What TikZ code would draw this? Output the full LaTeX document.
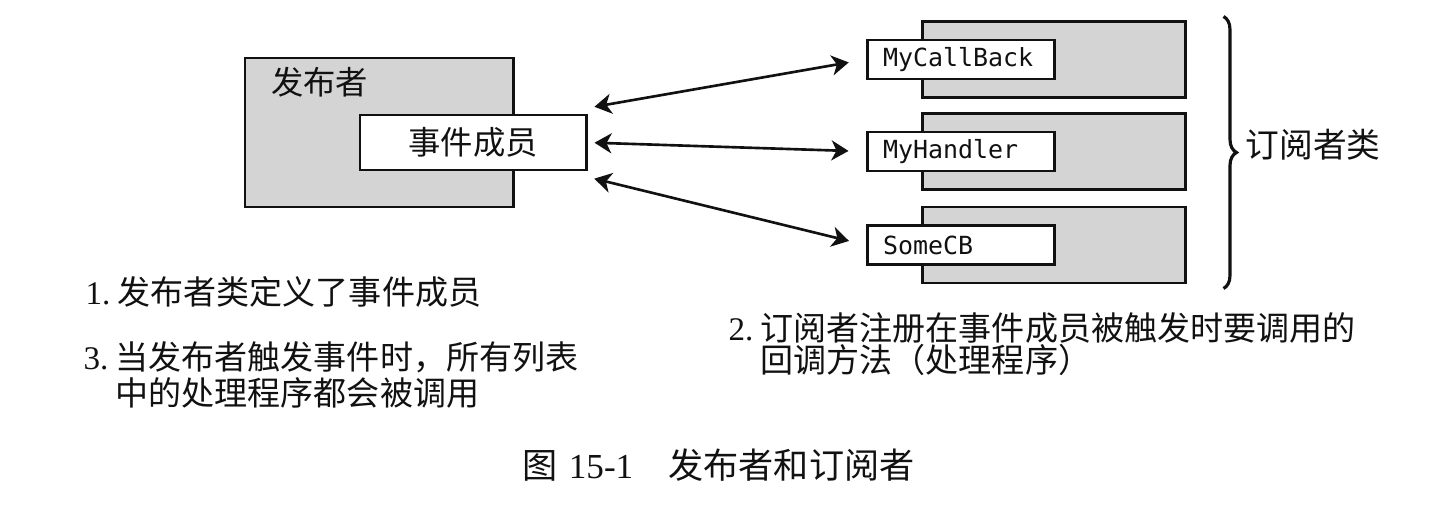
\documentclass[tikz,border=0pt]{standalone}
\usepackage{fontspec}
\setmainfont{Liberation Serif}
\newfontfamily\cjkfont{Noto Sans CJK SC}
\newfontfamily\codefont{DejaVu Sans Mono}
\usetikzlibrary{arrows.meta,positioning,calc,decorations.pathreplacing}
\definecolor{ink}{HTML}{111111}
\definecolor{speck}{HTML}{D4D4D4}
\tikzset{
  shell/.style={draw=ink, line width=0.85pt, fill=speck, inner sep=0pt},
  memb/.style={
    draw=ink, line width=0.85pt, fill=white, inner sep=0pt,
    minimum width=22.6mm, minimum height=5.5mm,
    font=\cjkfont\fontsize{9.2}{11}\selectfont, text=ink},
  cb/.style={
    draw=ink, line width=0.85pt, fill=white, inner xsep=1.6mm, inner ysep=0pt,
    text width=15.5mm, minimum height=3.9mm, align=left,
    font=\codefont\fontsize{7.1}{8}\selectfont, text=ink},
  bi/.style={{Stealth[length=1.7mm,width=2mm,inset=0.5mm]}-{Stealth[length=1.7mm,width=2mm,inset=0.5mm]},
             draw=ink, line width=0.75pt},
  brc/.style={decorate, decoration={brace, amplitude=1.3mm}, draw=ink, line width=0.9pt},
  note/.style={anchor=west, inner sep=0pt, align=left, text=ink,
               font=\cjkfont\fontsize{9.4}{10.2}\selectfont},
}
\newcommand{\numlbl}[1]{\makebox[3.2mm][l]{\rmfamily #1}}

\begin{document}
\begin{tikzpicture}[x=1mm, y=1mm]
\useasboundingbox (0,0) rectangle (144.4,51.4);

% publisher
\node[shell, minimum width=26.8mm, minimum height=14.9mm] (pub) at (37.9,38.15) {};
\node[note, font=\cjkfont\fontsize{9.2}{11}\selectfont] (pubname)
  at ($(pub.north west)+(2.7mm,-2.6mm)$) {发布者};
\node[memb] (evt) at (47.3,37.15) {事件成员};

% subscribers
\foreach \i/\y/\t in {1/45.45/MyCallBack, 2/36.25/MyHandler, 3/26.9/SomeCB} {
  \node[shell, minimum width=26.3mm, minimum height=7.6mm] (sub\i) at (105.35,\y) {};
  \node[cb, anchor=west] (cb\i) at ($(sub\i.west)+(-5.5mm,0)$) {\t};
}

\foreach \s/\i in {3.45/1, 0/2, -3.45/3}
  \draw[bi, shorten <=0.7mm, shorten >=1.7mm] ([yshift=\s mm]evt.east) -- (cb\i.west);

% brace round the subscriber classes
\coordinate (btop) at ($(sub1.north east)+(3.7mm,0.35mm)$);
\coordinate (bbot) at ($(sub3.south east)+(3.7mm,-0.4mm)$);
\draw[brc] (btop) -- (bbot);
\node[note, font=\cjkfont\fontsize{9.6}{11}\selectfont] (subcls) at (124.5,36.9) {订阅者类};

% steps
\node[note] (n1) at (8.5,22.2) {\numlbl{1.}发布者类定义了事件成员};
\node[note] (n3) at (8.3,13.9)
  {\numlbl{3.}当发布者触发事件时，所有列表\\\numlbl{}中的处理程序都会被调用};
\node[note] (n2) at (72.8,17.0)
  {\numlbl{2.}订阅者注册在事件成员被触发时要调用的\\[-1.1pt]\numlbl{}回调方法（处理程序）};

% caption
\node[note, font=\cjkfont\fontsize{10}{12}\selectfont] (cap) at (52.2,4.9)
  {图\hspace{1.1mm}{\rmfamily 15-1}\quad 发布者和订阅者};

\end{tikzpicture}
\end{document}
